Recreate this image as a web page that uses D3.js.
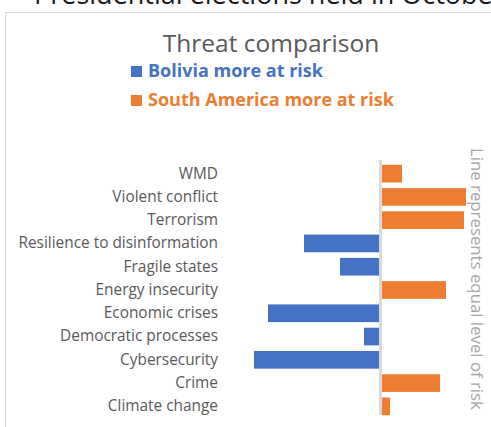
<!DOCTYPE html>
<html>
<head>
<meta charset="utf-8">
<script src="https://cdn.jsdelivr.net/npm/d3@7"></script>
<style>
  html, body { margin: 0; padding: 0; background: #fff; overflow: hidden; }
  svg { display: block; }
</style>
</head>
<body>
<svg id="chart" width="491" height="427"></svg>
<script>
// Threat categories, top to bottom
const categories = [
  "WMD", "Violent conflict", "Terrorism", "Resilience to disinformation",
  "Fragile states", "Energy insecurity", "Economic crises",
  "Democratic processes", "Cybersecurity", "Crime", "Climate change"
];
// Net risk difference: negative = Bolivia more at risk, positive = South America more at risk
const riskGap = [0.5, 2.1, 2.05, -1.9, -1.0, 1.6, -2.8, -0.4, -3.15, 1.45, 0.2];
const seriesNames = ["Bolivia more at risk", "South America more at risk"];
const seriesColors = ["#4472C4", "#ED7D31"];

const svg = d3.select("#chart");
const font = "'Open Sans', sans-serif";

// Heading of the page section above the chart
svg.append("text")
  .attr("x", 34).attr("y", 4)
  .attr("font-family", font).attr("font-size", 27)
  .attr("fill", "#1a1a1a")
  .text("Presidential elections held in October 2020");

// Chart area frame
svg.append("rect")
  .attr("x", 5.5).attr("y", 12.5)
  .attr("width", 600).attr("height", 500)
  .attr("fill", "#fff").attr("stroke", "#d9d9d9");

// Title
svg.append("text")
  .attr("x", 271).attr("y", 52)
  .attr("text-anchor", "middle")
  .attr("font-family", font).attr("font-size", 24.5)
  .attr("fill", "#595959")
  .text("Threat comparison");

// Legend
const legend = svg.append("g");
seriesNames.forEach((name, i) => {
  const y = 71 + i * 29;
  legend.append("rect")
    .attr("x", 131).attr("y", y - 5).attr("width", 11).attr("height", 11)
    .attr("fill", seriesColors[i]);
  legend.append("text")
    .attr("x", 148).attr("y", y + 6)
    .attr("font-family", font).attr("font-size", 18).attr("font-weight", 700)
    .attr("fill", seriesColors[i])
    .text(name);
});

// Scales
const x = d3.scaleLinear().domain([-3.5, 2.5]).range([240, 480]);
const y = d3.scaleBand().domain(categories).range([162, 418]).paddingInner(0.24).paddingOuter(0.12);

// Zero line marking equal level of risk
svg.append("line")
  .attr("x1", x(0) + 0.5).attr("x2", x(0) + 0.5)
  .attr("y1", 160).attr("y2", 415)
  .attr("stroke", "#d9d9d9").attr("stroke-width", 3);

// Bars
svg.append("g").selectAll("rect")
  .data(categories.map((c, i) => ({ c, v: riskGap[i] })))
  .join("rect")
  .attr("x", d => d.v < 0 ? x(d.v) : x(0) + 2)
  .attr("width", d => d.v < 0 ? x(0) - x(d.v) - 1 : x(d.v) - x(0))
  .attr("y", d => y(d.c))
  .attr("height", y.bandwidth())
  .attr("fill", d => d.v < 0 ? seriesColors[0] : seriesColors[1]);

// Category axis labels
const axis = d3.axisLeft(y).tickSize(0).tickPadding(0);
const gAxis = svg.append("g").attr("transform", "translate(218,0)").call(axis);
gAxis.select(".domain").remove();
gAxis.selectAll("text")
  .attr("font-family", font).attr("font-size", 15.4)
  .attr("fill", "#595959");

// Vertical note
svg.append("text")
  .attr("transform", `translate(471,148) rotate(90)`)
  .attr("font-family", font).attr("font-size", 16.8)
  .attr("fill", "#a6a6a6")
  .text("Line represents equal level of risk");
</script>
</body>
</html>
